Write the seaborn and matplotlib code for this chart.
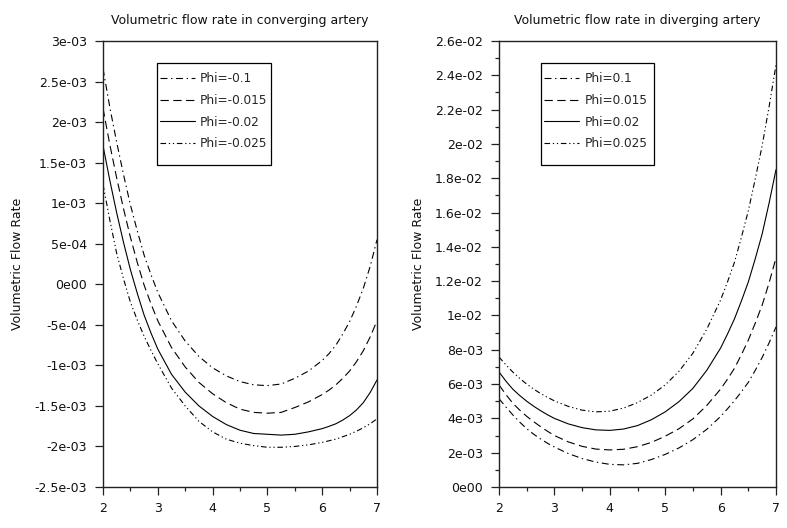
import matplotlib
matplotlib.use("Agg")
import matplotlib.pyplot as plt
import numpy as np
import pandas as pd
import seaborn as sns
from matplotlib.ticker import FixedLocator, FixedFormatter, MultipleLocator
from matplotlib.lines import Line2D
from matplotlib.patches import Rectangle

# ---------------- data (flow rate values in units of 1e-3) ----------------
x_vals = [2.0, 2.125, 2.25, 2.375, 2.5, 2.625, 2.75, 2.875, 3.0, 3.25, 3.5, 3.75, 4.0,
          4.25, 4.5, 4.75, 5.0, 5.25, 5.5, 5.75, 6.0, 6.125, 6.25, 6.375, 6.5, 6.625,
          6.75, 6.875, 7.0]

conv_title = "Volumetric flow rate in converging artery"
conv_labels = ["Phi=-0.1", "Phi=-0.015", "Phi=-0.02", "Phi=-0.025"]
conv_phi_m0100 = [2.66, 2.18, 1.75, 1.35, 0.98, 0.66, 0.36, 0.12, -0.10, -0.45, -0.70, -0.89,
                  -1.03, -1.13, -1.20, -1.24, -1.25, -1.23, -1.16, -1.07, -0.94, -0.855,
                  -0.75, -0.615, -0.46, -0.27, -0.05, 0.22, 0.55]
conv_phi_m0015 = [2.17, 1.72, 1.31, 0.93, 0.58, 0.27, -0.01, -0.24, -0.45, -0.78, -1.02, -1.21,
                  -1.35, -1.46, -1.54, -1.58, -1.59, -1.58, -1.52, -1.45, -1.36, -1.305,
                  -1.24, -1.16, -1.07, -0.955, -0.82, -0.65, -0.45]
conv_phi_m0020 = [1.71, 1.28, 0.88, 0.515, 0.18, -0.11, -0.38, -0.60, -0.80, -1.11, -1.33, -1.50,
                  -1.63, -1.73, -1.80, -1.84, -1.85, -1.86, -1.85, -1.82, -1.78, -1.752,
                  -1.72, -1.675, -1.62, -1.55, -1.46, -1.335, -1.18]
conv_phi_m0025 = [1.23, 0.79, 0.38, 0.065, -0.22, -0.44, -0.64, -0.815, -0.98, -1.28, -1.50, -1.69,
                  -1.82, -1.91, -1.96, -1.99, -2.01, -2.01, -2.00, -1.98, -1.95, -1.93,
                  -1.91, -1.88, -1.85, -1.812, -1.77, -1.72, -1.66]

div_title = "Volumetric flow rate in diverging artery"
div_labels = ["Phi=0.1", "Phi=0.015", "Phi=0.02", "Phi=0.025"]
div_phi_0100 = [5.15, 4.66, 4.20, 3.78, 3.40, 3.08, 2.80, 2.55, 2.33, 1.95, 1.66, 1.45,
                1.32, 1.29, 1.38, 1.60, 1.90, 2.28, 2.76, 3.36, 4.11, 4.56,
                5.03, 5.55, 6.10, 6.80, 7.55, 8.40, 9.33]
div_phi_0015 = [5.95, 5.39, 4.88, 4.48, 4.12, 3.81, 3.52, 3.25, 3.00, 2.63, 2.37, 2.21,
                2.16, 2.20, 2.35, 2.60, 2.96, 3.40, 3.97, 4.75, 5.71, 6.29,
                6.92, 7.71, 8.56, 9.55, 10.60, 11.90, 13.35]
div_phi_0020 = [6.71, 6.17, 5.70, 5.33, 5.00, 4.71, 4.45, 4.21, 4.00, 3.68, 3.46, 3.33,
                3.30, 3.38, 3.58, 3.92, 4.38, 4.98, 5.75, 6.80, 8.10, 8.92,
                9.80, 10.84, 11.95, 13.30, 14.75, 16.55, 18.50]
div_phi_0025 = [7.58, 7.12, 6.70, 6.33, 6.00, 5.71, 5.45, 5.23, 5.02, 4.70, 4.48, 4.38,
                4.42, 4.60, 4.92, 5.36, 5.95, 6.75, 7.80, 9.20, 10.90, 11.96,
                13.10, 14.55, 16.10, 17.95, 19.90, 22.17, 24.60]

x_ticks = [2, 3, 4, 5, 6, 7]
x_ticklabels = ["2", "3", "4", "5", "6", "7"]
conv_yticks = [3e-3, 2.5e-3, 2e-3, 1.5e-3, 1e-3, 5e-4, 0, -5e-4, -1e-3, -1.5e-3, -2e-3, -2.5e-3]
conv_yticklabels = ["3e-03", "2.5e-03", "2e-03", "1.5e-03", "1e-03", "5e-04", "0e00",
                    "-5e-04", "-1e-03", "-1.5e-03", "-2e-03", "-2.5e-03"]
div_yticks = [0, 2e-3, 4e-3, 6e-3, 8e-3, 1e-2, 1.2e-2, 1.4e-2, 1.6e-2, 1.8e-2, 2e-2,
              2.2e-2, 2.4e-2, 2.6e-2]
div_yticklabels = ["0e00", "2e-03", "4e-03", "6e-03", "8e-03", "1e-02", "1.2e-02", "1.4e-02",
                   "1.6e-02", "1.8e-02", "2e-02", "2.2e-02", "2.4e-02", "2.6e-02"]
y_label = "Volumetric Flow Rate"

# ---------------- styling ----------------
sns.set_style("ticks")
plt.rcParams["font.family"] = ["DejaVu Sans"]
plt.rcParams["lines.scale_dashes"] = False

dash_patterns = [(5.0, 2.6, 1.0, 2.6), (6.0, 3.2), "", (4.0, 2.0, 0.9, 2.0, 0.9, 2.0)]


def build_df(labels, series):
    frames = []
    for lab, vals in zip(labels, series):
        frames.append(pd.DataFrame({"x": x_vals,
                                    "Q": np.asarray(vals, dtype=float) * 1e-3,
                                    "phi": lab}))
    return pd.concat(frames, ignore_index=True)


fig = plt.figure(figsize=(7.87, 5.28), dpi=100)
W, H = 787.0, 528.0
ax1 = fig.add_axes([103 / W, 1 - 487 / H, 274 / W, 446 / H])
ax2 = fig.add_axes([499 / W, 1 - 487 / H, 277 / W, 446 / H])

# (axes, title, labels, series, ylim, yticks, yticklabels, yminor,
#  legend anchor (axes frac), legend box (x0, y0, w, h in axes frac), ylabel x)
panels = [
    (ax1, conv_title, conv_labels,
     [conv_phi_m0100, conv_phi_m0015, conv_phi_m0020, conv_phi_m0025],
     (-2.5e-3, 3e-3), conv_yticks, conv_yticklabels, None,
     (0.208, 0.930), (0.197, 0.722, 0.416, 0.229), -0.290),
    (ax2, div_title, div_labels,
     [div_phi_0100, div_phi_0015, div_phi_0020, div_phi_0025],
     (0, 2.6e-2), div_yticks, div_yticklabels, 1e-3,
     (0.163, 0.930), (0.152, 0.722, 0.408, 0.229), -0.268),
]

for ax, title, labels, series, ylim, yt, ytl, yminor, leganchor, legbox, ylabx in panels:
    df = build_df(labels, series)
    sns.lineplot(data=df, x="x", y="Q", style="phi", style_order=labels,
                 dashes=dict(zip(labels, dash_patterns)), color="black",
                 linewidth=0.8, estimator=None, sort=False, legend=False, ax=ax)
    ax.set_xlim(2, 7)
    ax.set_ylim(*ylim)
    ax.xaxis.set_major_locator(FixedLocator(x_ticks))
    ax.xaxis.set_major_formatter(FixedFormatter(x_ticklabels))
    ax.xaxis.set_minor_locator(MultipleLocator(0.5))
    ax.yaxis.set_major_locator(FixedLocator(yt))
    ax.yaxis.set_major_formatter(FixedFormatter(ytl))
    if yminor is not None:
        ax.yaxis.set_minor_locator(MultipleLocator(yminor))
    ax.tick_params(which="major", direction="out", length=6, width=0.9,
                   labelsize=9, pad=5.5, color="#222222", labelcolor="#111111")
    ax.tick_params(which="minor", direction="out", length=3.2, width=0.9, color="#222222")
    ax.tick_params(axis="x", which="major", pad=5)
    for sp in ax.spines.values():
        sp.set_visible(True)
        sp.set_linewidth(1.0)
        sp.set_color("#222222")
    ax.set_xlabel("")
    ax.set_ylabel(y_label, fontsize=9, color="#111111")
    ax.yaxis.set_label_coords(ylabx, 0.5)
    ax.set_title(title, fontsize=9, pad=12, color="#111111")

    handles = [Line2D([], [], color="black", linewidth=0.8,
                      linestyle="-" if d == "" else (0, d))
               for d in dash_patterns]
    ax.legend(handles, labels, loc="upper left", bbox_to_anchor=leganchor,
              frameon=False, fontsize=8.75, handlelength=2.9, handletextpad=0.4,
              labelspacing=0.72, borderpad=0.0, borderaxespad=0)
    ax.add_patch(Rectangle((legbox[0], legbox[1]), legbox[2], legbox[3],
                           transform=ax.transAxes, fill=True, facecolor="none",
                           edgecolor="black", linewidth=0.9, zorder=5))
    ax.set_facecolor("white")

fig.savefig("out.png", dpi=100, facecolor="white")
